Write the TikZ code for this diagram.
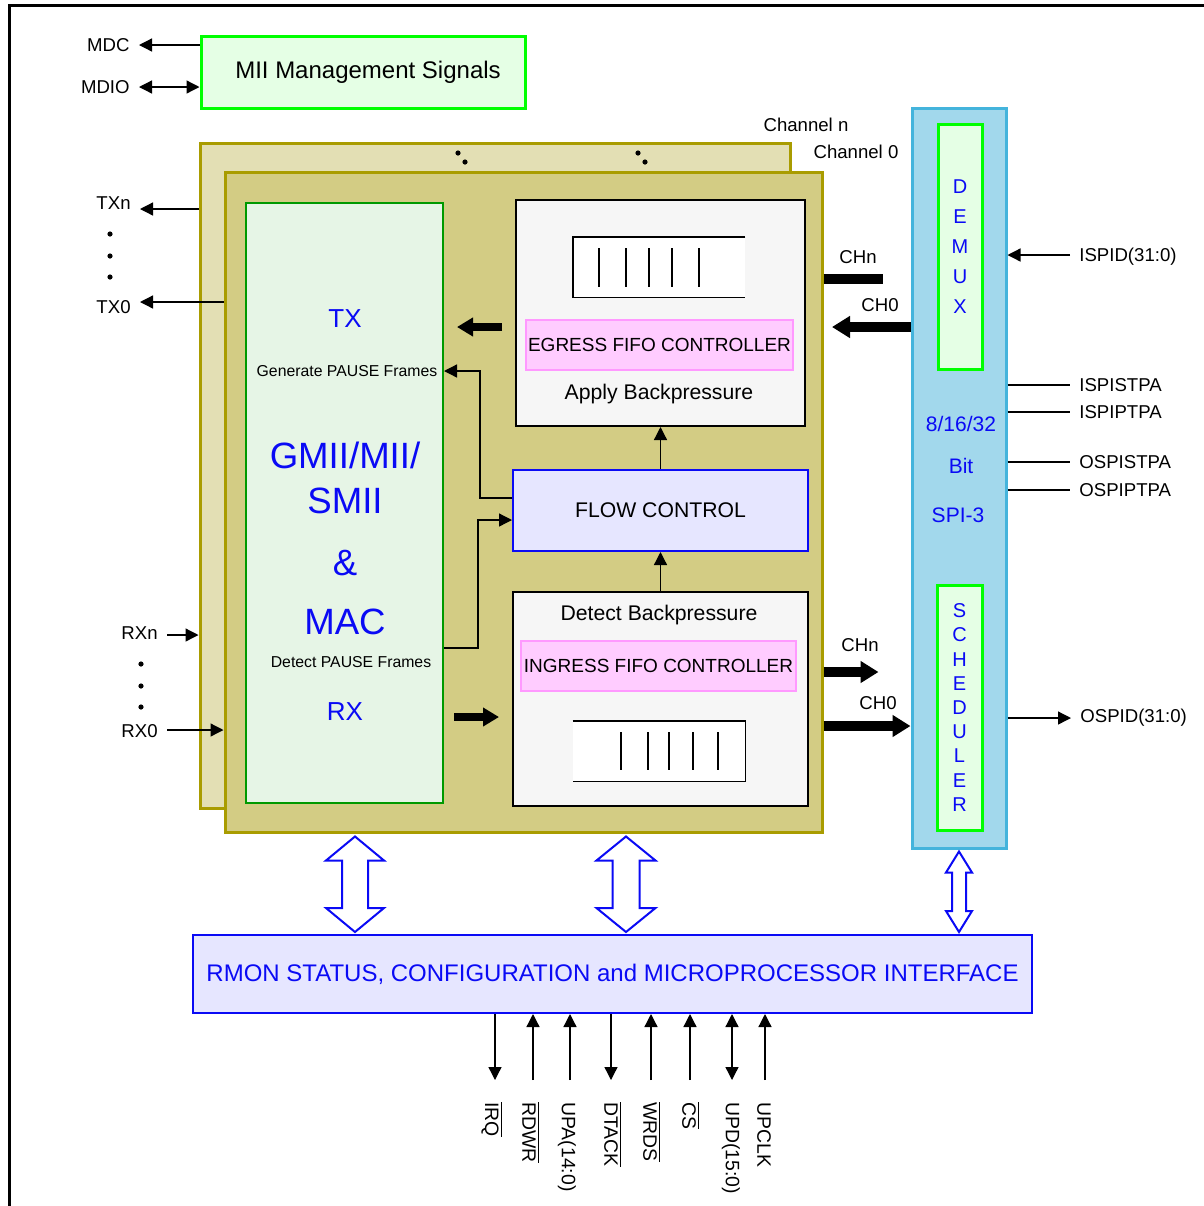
\documentclass[tikz,border=0pt]{standalone}
\usepackage{fontspec}
\setmainfont{Liberation Sans}
\usetikzlibrary{positioning, calc, arrows.meta}

\definecolor{chanline}{HTML}{A99C00}
\definecolor{chanback}{HTML}{E3DFB4}
\definecolor{chanfront}{HTML}{D3CC84}
\definecolor{macfill}{HTML}{E6F5E6}
\definecolor{macline}{HTML}{009900}
\definecolor{miifill}{HTML}{E5FFE5}
\definecolor{miiline}{HTML}{00FF00}
\definecolor{pinkfill}{HTML}{FFCCFF}
\definecolor{pinkline}{HTML}{FF99FF}
\definecolor{boxgrey}{HTML}{F6F6F6}
\definecolor{flowfill}{HTML}{E6E6FF}
\definecolor{spifill}{HTML}{A2D8EC}
\definecolor{spiline}{HTML}{44B4DC}
\definecolor{txtblue}{HTML}{0A0AF5}

\newcommand{\lblfont}{\fontsize{9.3}{11}\selectfont}
% hollow two-headed arrow: top, bottom, head half width, shaft half width, head length
\newcommand{\dblarrow}[5]{%
  \draw[hollow] (#1) -- ++(#3,#5) -- ++(#4-#3,0) -- ($(#2)+(#4,-#5)$) -- ++(#3-#4,0) -- (#2)
    -- ++(-#3,-#5) -- ++(#3-#4,0) -- ($(#1)+(-#4,#5)$) -- ++(#4-#3,0) -- cycle;}

\begin{document}
\begin{tikzpicture}[
    x=0.5pt, y=-0.5pt,
    >={Triangle[length=6.5pt,width=6.5pt]},
    lbl/.style={font=\lblfont, inner ysep=0pt, inner xsep=4.5pt},
    pinlbl/.style={font=\fontsize{9.7}{11}\selectfont, inner sep=0pt, rotate=-90, anchor=west},
    bluetxt/.style={text=txtblue, inner sep=0pt},
    smalltxt/.style={font=\fontsize{7.9}{9}\selectfont, inner sep=0pt},
    midtxt/.style={font=\fontsize{10.6}{12}\selectfont, inner sep=0pt},
    chan/.style={rectangle, draw=chanline, line width=1.5pt},
    greybox/.style={rectangle, draw=black, line width=1pt, fill=boxgrey},
    pinkbox/.style={rectangle, draw=pinkline, line width=1pt, fill=pinkfill, font=\fontsize{9.5}{11}\selectfont, minimum height=25pt, inner sep=0pt},
    fifo/.style={fill=white, minimum width=86pt, minimum height=30pt, inner sep=0pt},
    sig/.style={line width=0.65pt, ->},
    fat/.style={line width=3.6pt, -{Triangle[length=8pt,width=9pt]}},
    bus/.style={line width=5pt, -{Triangle[length=9pt,width=10.5pt]}},
    hollow/.style={draw=txtblue, fill=white, line width=1pt, line join=miter}
  ]
  \useasboundingbox (0,0) rectangle (1204,1206);
  \draw[line width=1.5pt] (9,1206) -- (9,5) -- (1204,5);

  % --- Management ---
  \node[draw=miiline, fill=miifill, line width=1.5pt, minimum width=162pt, minimum height=36pt,
        font=\fontsize{12}{14}\selectfont] (mii) at (363,72) {\hspace{5pt}MII Management Signals};
  \node[lbl, anchor=east] (mdc) at (139,45) {MDC};
  \node[lbl, anchor=east] (mdio) at (139,87) {MDIO};
  \draw[sig] (mii.west |- mdc.east) -- (mdc.east);
  \draw[<->, line width=0.65pt] (mdio.east) -- (mii.west |- mdio.east);

  % --- Channel blocks ---
  \node[chan, fill=chanback, minimum width=295pt, minimum height=332.5pt] (back) at (495,475.5) {};
  \node[chan, fill=chanfront, minimum width=298.5pt, minimum height=330pt] (front) at (523.5,502) {};
  \node[lbl] (chann) at (806,125) {Channel n};
  \node[lbl] (chan0) at (856,152) {Channel 0};
  \foreach \dx in {458,638} {
    \fill (\dx,153) circle[radius=2.6];
    \fill (\dx+7,162) circle[radius=2.6];
  }

  % --- MAC ---
  \node[draw=macline, fill=macfill, line width=1pt, minimum width=98.5pt, minimum height=300pt] (mac) at (344.5,503) {};
  \node[bluetxt, font=\fontsize{13}{15}\selectfont] (tx) at (345,319) {TX};
  \node[smalltxt] (genp) at (347,371) {Generate PAUSE Frames};
  \node[bluetxt, font=\fontsize{18.3}{22.5}\selectfont, align=center] (gmii) at (345,478) {GMII/MII/\\SMII};
  \node[bluetxt, font=\fontsize{18.3}{22}\selectfont] (amp) at (345,563) {\&};
  \node[bluetxt, font=\fontsize{18.3}{22}\selectfont] (macname) at (345,622) {MAC};
  \node[smalltxt] (detp) at (351,662) {Detect PAUSE Frames};
  \node[bluetxt, font=\fontsize{13}{15}\selectfont] (rx) at (345,712) {RX};

  % --- Egress ---
  \node[greybox, minimum width=144.5pt, minimum height=113pt] (egress) at (660.5,313) {};
  \node[fifo] (efifo) at (659,267) {};
  \draw[line width=0.9pt] (efifo.north east) -- (efifo.north west) -- (efifo.south west) -- (efifo.south east);
  \foreach \bx in {599,626,649,672,699}
    \draw[line width=0.8pt] (\bx,248) -- (\bx,287);
  \node[pinkbox, minimum width=133.5pt] (epink) at (659.5,345) {EGRESS FIFO CONTROLLER};
  \node[midtxt] (applybp) at (659,394) {Apply Backpressure};

  % --- Flow control ---
  \node[draw=txtblue, fill=flowfill, line width=1pt, minimum width=147.5pt, minimum height=40.5pt,
        font=\fontsize{10.6}{12}\selectfont] (flow) at (660.5,510.5) {FLOW CONTROL};

  % --- Ingress ---
  \node[greybox, minimum width=147.5pt, minimum height=107pt] (ingress) at (660.5,699) {};
  \node[midtxt] (detbp) at (659,615) {Detect Backpressure};
  \node[pinkbox, minimum width=137.5pt] (ipink) at (658.5,666) {INGRESS FIFO CONTROLLER};
  \node[fifo] (ififo) at (659,751) {};
  \draw[line width=0.9pt] (ififo.north west) -- (ififo.north east) -- (ififo.south east) -- (ififo.south west);
  \foreach \bx in {621,648,669,693,718}
    \draw[line width=0.8pt] (\bx,732) -- (\bx,770);

  % --- Links inside the channel ---
  \draw[sig] (flow.north) -- (egress.south);
  \draw[sig] (ingress.north) -- (flow.south);
  \draw[sig] ($(flow.west)+(0,-12.5)$) -| (480,371) -- (mac.east |- genp);
  \draw[sig] (mac.east |- 0,648) -| (478,520) -- (flow.west |- 0,520);
  \draw[fat] ($(egress.west)+(-13,14)$) -- ++(-45,0);
  \draw[fat] ($(mac.east)+(10,214)$) -- ++(45,0);

  % --- SPI-3 ---
  \node[draw=spiline, fill=spifill, line width=1.5pt, minimum width=47pt, minimum height=370pt] (spi) at (959,478) {};
  \node[draw=miiline, fill=miifill, line width=1.5pt, minimum width=22pt, minimum height=122.5pt,
        bluetxt, align=center, font=\fontsize{10}{15}\selectfont] (demux) at (960,246.5) {D\\E\\M\\U\\X};
  \node[draw=miiline, fill=miifill, line width=1.5pt, minimum width=22.5pt, minimum height=122.5pt,
        bluetxt, align=center, font=\fontsize{10}{12.1}\selectfont] (sched) at (959.5,707.5) {S\\C\\H\\E\\D\\U\\L\\E\\R};
  \node[bluetxt, font=\fontsize{10.5}{12}\selectfont] (bits) at (961,424) {8/16/32};
  \node[bluetxt, font=\fontsize{10.5}{12}\selectfont] (bitw) at (961,466) {Bit};
  \node[bluetxt, font=\fontsize{10.5}{12}\selectfont] (spi3) at (958,515) {SPI-3};

  % --- Channel buses ---
  \draw[line width=5pt] (front.east |- 0,279) -- ++(59,0);
  \draw[bus] (spi.west |- 0,327) -- ($(egress.east |- 0,327)+(26,0)$);
  \draw[bus] (front.east |- 0,672) -- ++(55,0);
  \draw[bus] (front.east |- 0,726) -- (spi.west |- 0,726);
  \node[lbl] (chnout) at (858,257) {CHn};
  \node[lbl] (ch0out) at (880,305) {CH0};
  \node[lbl] (chnin) at (860,645) {CHn};
  \node[lbl] (ch0in) at (878,703) {CH0};

  % --- Line side ---
  \node[lbl, anchor=east] (txn) at (140,203) {TXn};
  \node[lbl, anchor=east] (tx0) at (140,307) {TX0};
  \node[lbl, anchor=east] (rxn) at (167,633) {RXn};
  \node[lbl, anchor=east] (rx0) at (167,731) {RX0};
  \draw[sig] (back.west |- 0,209) -- (txn.east |- 0,209);
  \draw[sig] (front.west |- 0,302) -- (tx0.east |- 0,302);
  \draw[sig] (rxn.east |- 0,635) -- (back.west |- 0,635);
  \draw[sig] (rx0.east |- 0,730) -- (front.west |- 0,730);
  \foreach \dy in {234,256,277} \fill (110,\dy) circle[radius=2.6];
  \foreach \dy in {664,686,707} \fill (141,\dy) circle[radius=2.6];

  % --- SPI side ---
  \node[lbl, anchor=west] (ispid) at (1070,257) {ISPID(31:0)};
  \node[lbl, anchor=west] (ispistpa) at (1070,385) {ISPISTPA};
  \node[lbl, anchor=west] (ispiptpa) at (1070,412) {ISPIPTPA};
  \node[lbl, anchor=west] (ospistpa) at (1070,462) {OSPISTPA};
  \node[lbl, anchor=west] (ospiptpa) at (1070,490) {OSPIPTPA};
  \node[lbl, anchor=west] (ospid) at (1071,718) {OSPID(31:0)};
  \draw[sig] (ispid.west |- 0,255) -- (spi.east |- 0,255);
  \foreach \nm in {ispistpa,ispiptpa,ospistpa,ospiptpa}
    \draw[line width=0.65pt] (spi.east |- \nm.west) -- (\nm.west);
  \draw[sig] (spi.east |- ospid.west) -- (ospid.west);

  % --- Microprocessor interface ---
  \node[draw=txtblue, fill=flowfill, line width=1pt, minimum width=419.5pt, minimum height=39pt, text=txtblue,
        font=\fontsize{12}{14}\selectfont] (rmon) at (612.5,974) {RMON STATUS, CONFIGURATION and MICROPROCESSOR INTERFACE};
  \path (front.south -| 355,0) ++(0,3) coordinate (ha1) (rmon.north -| 355,0) ++(0,-2) coordinate (hb1);
  \path (front.south -| 626,0) ++(0,3) coordinate (ha2) (rmon.north -| 626,0) ++(0,-2) coordinate (hb2);
  \path (spi.south) ++(0,2) coordinate (ha3) (rmon.north -| spi.south) ++(0,-2) coordinate (hb3);
  \dblarrow{ha1}{hb1}{29}{13}{24}
  \dblarrow{ha2}{hb2}{29.5}{13.5}{24}
  \dblarrow{ha3}{hb3}{13}{7}{21}

  \foreach \px in {495,611}
    \draw[sig] (rmon.south -| \px,0) -- (\px,1080);
  \foreach \px in {533,570,651,690,765}
    \draw[sig] (\px,1080) -- (rmon.south -| \px,0);
  \draw[<->, line width=0.65pt] (rmon.south -| 732,0) -- (732,1080);

  \node[pinlbl] (irq) at (492,1102) {$\overline{\mbox{IRQ}}$};
  \node[pinlbl] (rdwr) at (531,1102) {$\overline{\mbox{RDWR}}$};
  \node[pinlbl] (upa) at (567,1102) {UPA(14:0)};
  \node[pinlbl] (dtack) at (613,1102) {$\overline{\mbox{DTACK}}$};
  \node[pinlbl] (wrds) at (652,1102) {$\overline{\mbox{WRDS}}$};
  \node[pinlbl] (cs) at (691,1102) {$\overline{\mbox{CS}}$};
  \node[pinlbl] (upd) at (731,1102) {UPD(15:0)};
  \node[pinlbl] (upclk) at (764,1102) {UPCLK};
\end{tikzpicture}
\end{document}
